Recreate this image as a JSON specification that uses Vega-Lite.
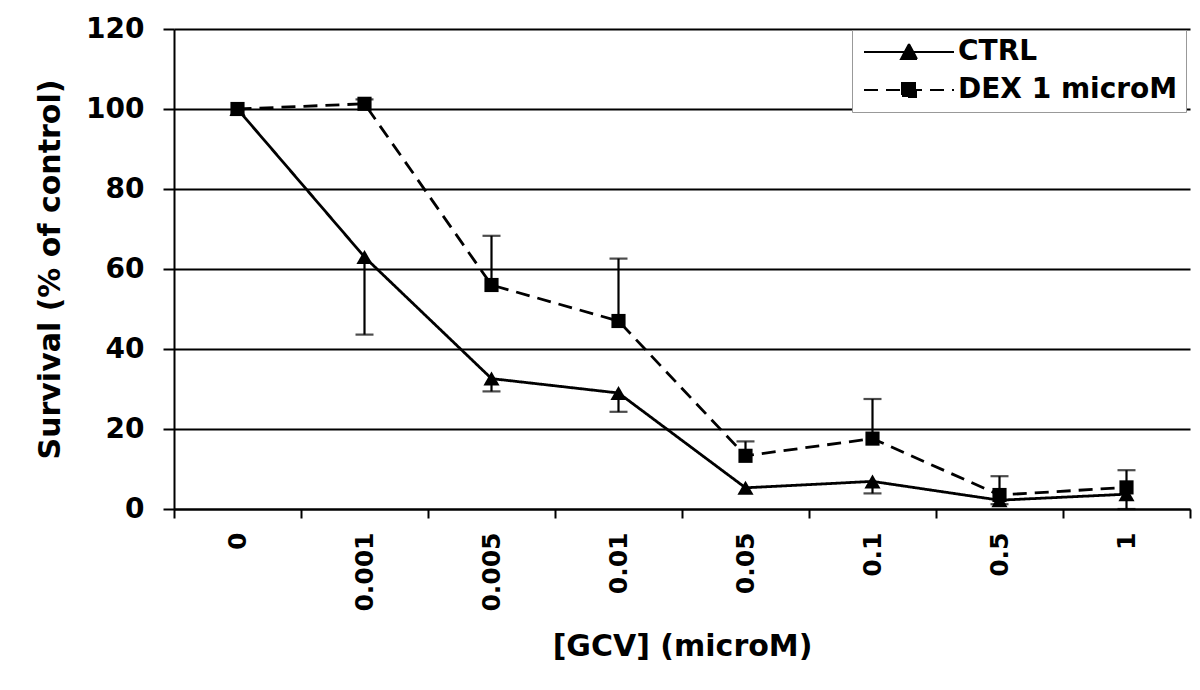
{
  "$schema": "https://vega.github.io/schema/vega-lite/v6.json",
  "width": 1016,
  "height": 480,
  "autosize": {"type": "none"},
  "padding": {"left": 174, "top": 29, "right": 10, "bottom": 181},
  "background": "white",
  "config": {
    "font": "DejaVu Sans",
    "view": {"stroke": null},
    "axis": {"labelFontWeight": "bold", "titleFontWeight": "bold", "labelColor": "black", "titleColor": "black"}
  },
  "data": {
    "values": [
      {"gcv": "0", "series": "CTRL", "mean": 100, "errEnd": null},
      {"gcv": "0.001", "series": "CTRL", "mean": 63, "errEnd": 43.6},
      {"gcv": "0.005", "series": "CTRL", "mean": 32.6, "errEnd": 29.4},
      {"gcv": "0.01", "series": "CTRL", "mean": 29, "errEnd": 24.3},
      {"gcv": "0.05", "series": "CTRL", "mean": 5.3, "errEnd": null},
      {"gcv": "0.1", "series": "CTRL", "mean": 6.9, "errEnd": 3.9},
      {"gcv": "0.5", "series": "CTRL", "mean": 2.2, "errEnd": 1.2},
      {"gcv": "1", "series": "CTRL", "mean": 3.7, "errEnd": 0},
      {"gcv": "0", "series": "DEX 1 microM", "mean": 100, "errEnd": null},
      {"gcv": "0.001", "series": "DEX 1 microM", "mean": 101.3, "errEnd": 102.4},
      {"gcv": "0.005", "series": "DEX 1 microM", "mean": 56, "errEnd": 68.3},
      {"gcv": "0.01", "series": "DEX 1 microM", "mean": 47, "errEnd": 62.6},
      {"gcv": "0.05", "series": "DEX 1 microM", "mean": 13.3, "errEnd": 16.9},
      {"gcv": "0.1", "series": "DEX 1 microM", "mean": 17.6, "errEnd": 27.5},
      {"gcv": "0.5", "series": "DEX 1 microM", "mean": 3.5, "errEnd": 8.2},
      {"gcv": "1", "series": "DEX 1 microM", "mean": 5.4, "errEnd": 9.7}
    ]
  },
  "encoding": {
    "x": {
      "field": "gcv",
      "type": "nominal",
      "scale": {"type": "band", "domain": ["0", "0.001", "0.005", "0.01", "0.05", "0.1", "0.5", "1"], "paddingInner": 0, "paddingOuter": 0},
      "axis": {
        "title": "[GCV] (microM)",
        "titleFontSize": 30,
        "titlePadding": 20,
        "tickBand": "extent",
        "tickSize": 9,
        "tickWidth": 2,
        "tickColor": "black",
        "domainColor": "black",
        "domainWidth": 2,
        "labelAngle": 270,
        "labelFontSize": 25,
        "labelPadding": 14,
        "grid": false
      }
    }
  },
  "layer": [
    {
      "transform": [{"filter": "datum.errEnd != null"}],
      "mark": {"type": "rule", "color": "black", "strokeWidth": 2.2},
      "encoding": {
        "y": {"field": "mean", "type": "quantitative"},
        "y2": {"field": "errEnd"}
      }
    },
    {
      "transform": [{"filter": "datum.errEnd != null"}],
      "mark": {"type": "tick", "color": "black", "size": 18, "thickness": 2.2},
      "encoding": {
        "y": {"field": "errEnd", "type": "quantitative"}
      }
    },
    {
      "mark": {"type": "line", "color": "black", "strokeWidth": 2.8},
      "encoding": {
        "y": {
          "field": "mean",
          "type": "quantitative",
          "scale": {"domain": [0, 120]},
          "axis": {
            "values": [0, 20, 40, 60, 80, 100, 120],
            "title": "Survival (% of control)",
            "titleFontSize": 30,
            "titlePadding": 20,
            "grid": true,
            "gridColor": "black",
            "gridWidth": 2,
            "gridOpacity": 1,
            "domainColor": "black",
            "domainWidth": 2,
            "tickColor": "black",
            "tickWidth": 2,
            "tickSize": 11,
            "labelFontSize": 28,
            "labelPadding": 19
          }
        },
        "strokeDash": {
          "field": "series",
          "type": "nominal",
          "scale": {"domain": ["CTRL", "DEX 1 microM"], "range": [[1, 0], [14, 8]]},
          "legend": {
            "orient": "none",
            "legendX": 678,
            "legendY": 1,
            "title": null,
            "fillColor": "white",
            "strokeColor": "#999999",
            "padding": 8,
            "labelFontSize": 28,
            "labelFontWeight": "bold",
            "labelColor": "black",
            "labelLimit": 0,
            "symbolSize": 400,
            "symbolStrokeWidth": 2,
            "symbolStrokeColor": "black",
            "symbolFillColor": "black",
            "labelOffset": 70,
            "rowPadding": 10,
            "encode": {
              "symbols": {
                "update": {
                  "shape": {"signal": "datum.value === 'CTRL' ? 'M-1,0H8M2.7,0.7L3.5,-0.8L4.3,0.7Z' : 'M-1,0H8M2.8,-0.7H4.2V0.7H2.8Z'"},
                  "fill": {"value": "black"},
                  "stroke": {"value": "black"}
                }
              }
            }
          }
        }
      }
    },
    {
      "transform": [{"filter": "datum.series === 'CTRL'"}],
      "mark": {"type": "point", "filled": true, "color": "black", "opacity": 1, "size": 260, "shape": "triangle-up"},
      "encoding": {
        "y": {"field": "mean", "type": "quantitative"}
      }
    },
    {
      "transform": [{"filter": "datum.series !== 'CTRL'"}],
      "mark": {"type": "point", "filled": true, "color": "black", "opacity": 1, "size": 200, "shape": "square"},
      "encoding": {
        "y": {"field": "mean", "type": "quantitative"}
      }
    }
  ]
}
